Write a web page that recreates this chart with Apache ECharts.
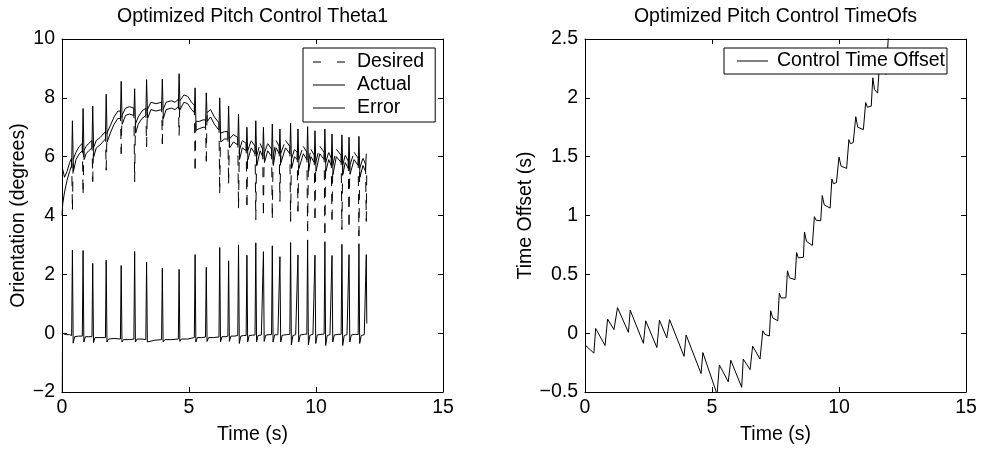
<!DOCTYPE html>
<html>
<head>
<meta charset="utf-8">
<script src="https://cdn.jsdelivr.net/npm/echarts@6/dist/echarts.min.js"></script>
<style>html,body{margin:0;padding:0;background:#fff}#c{width:984px;height:450px}</style>
</head>
<body>
<div id="c"></div>
<script>
// ---- Data (time in s) ----
const leftTitle = 'Optimized Pitch Control Theta1';
const rightTitle = 'Optimized Pitch Control TimeOfs';
const leftSeriesNames = ['Desired', 'Actual', 'Error'];
const rightSeriesName = 'Control Time Offset';
const xRange = [0, 15, 5];
const leftYRange = [-2, 10, 2];
const rightYRange = [-0.5, 2.5, 0.5];

const desired = [
[0,4.3],[0.02,5.6],[0.1,5.3],[0.2,5.5],[0.3,5.8],
[0.38,5.95],[0.41,4.2],[0.44,5.9],[0.55,6.15],[0.68,6.35],
[0.8,6.45],[0.83,4.76],[0.86,6.2],[0.95,6.35],[1.05,6.45],
[1.18,6.55],[1.21,5.15],[1.24,6.3],[1.35,6.55],[1.5,6.65],
[1.71,6.85],[1.74,5.54],[1.77,6.8],[1.9,7.05],[2.05,7.35],[2.2,7.55],
[2.3,7.55],[2.33,6.1],[2.36,7.4],[2.5,7.65],[2.65,7.7],
[2.83,7.65],[2.86,5.15],[2.89,7.1],[3.0,7.35],[3.15,7.55],
[3.3,7.65],[3.33,6.33],[3.36,7.6],[3.5,7.85],[3.7,7.8],
[3.92,7.85],[3.95,6.43],[3.98,7.6],[4.1,7.85],[4.3,7.9],[4.45,7.85],
[4.58,7.95],[4.61,6.72],[4.64,7.9],[4.8,8.1],[4.95,8.05],[5.1,7.85],
[5.21,7.75],[5.24,5.6],[5.27,7.2],[5.4,7.2],[5.55,7.25],
[5.65,7.25],[5.68,5.84],[5.71,7.5],[5.85,7.6],[6.0,7.35],
[6.18,7.15],[6.21,4.76],[6.24,6.8],[6.4,6.85],
[6.53,6.85],[6.56,5.09],[6.59,6.6],[6.75,6.75],
[6.92,6.65],[6.95,4.25],[6.98,6.2],[7.1,6.55],
[7.25,6.45],[7.28,4.36],[7.31,6.2],[7.45,6.55],
[7.6,6.35],[7.63,3.86],[7.66,6.0],[7.8,6.45],
[7.9,6.25],[7.93,4.08],[7.96,6.1],[8.1,6.45],
[8.25,6.25],[8.28,3.92],[8.31,6.0],[8.43,6.55],
[8.55,6.35],[8.58,4.48],[8.61,6.1],[8.8,6.55],
[8.97,6.35],[9.0,3.8],[9.03,5.9],[9.15,6.25],
[9.26,6.15],[9.29,4.14],[9.32,5.9],[9.5,6.35],
[9.64,6.15],[9.67,3.47],[9.7,5.8],[9.8,6.25],
[9.93,6.05],[9.96,3.92],[9.99,5.8],[10.15,6.35],
[10.32,6.15],[10.35,3.41],[10.38,5.8],[10.5,6.15],
[10.6,5.95],[10.63,3.86],[10.66,5.7],[10.8,6.25],
[10.99,6.05],[11.02,3.52],[11.05,5.7],[11.15,6.05],
[11.27,5.85],[11.3,3.69],[11.33,5.7],[11.5,6.15],
[11.66,5.95],[11.69,3.3],[11.72,5.6],[11.85,5.95],
[11.95,5.75],[11.98,3.8],[12.0,5.6]
];

const actual = [
[0,4.0],[0.03,4.4],[0.1,4.8],[0.2,5.2],[0.3,5.5],
[0.38,5.7],[0.41,7.22],[0.45,5.5],[0.55,5.9],[0.68,6.1],
[0.8,6.2],[0.83,7.64],[0.87,5.9],[0.95,6.1],[1.05,6.2],
[1.18,6.3],[1.21,7.72],[1.25,6.0],[1.35,6.3],[1.5,6.4],
[1.71,6.6],[1.74,8.12],[1.78,6.5],[1.9,6.8],[2.05,7.1],[2.2,7.3],
[2.3,7.3],[2.33,8.56],[2.37,7.1],[2.5,7.4],[2.65,7.45],
[2.83,7.4],[2.86,8.31],[2.9,6.8],[3.0,7.1],[3.15,7.3],
[3.3,7.4],[3.33,8.62],[3.37,7.3],[3.5,7.6],[3.7,7.55],
[3.92,7.6],[3.95,8.64],[3.99,7.3],[4.1,7.6],[4.3,7.65],[4.45,7.6],
[4.58,7.7],[4.61,8.82],[4.65,7.6],[4.8,7.85],[4.95,7.8],[5.1,7.6],
[5.21,7.5],[5.24,8.34],[5.28,6.9],[5.4,6.95],[5.55,7.0],
[5.65,7.0],[5.68,8.17],[5.72,7.2],[5.85,7.35],[6.0,7.1],
[6.18,6.9],[6.21,8.0],[6.25,6.5],[6.4,6.6],
[6.53,6.6],[6.56,7.72],[6.6,6.3],[6.75,6.5],
[6.92,6.4],[6.95,7.44],[6.99,5.9],[7.1,6.3],
[7.25,6.2],[7.28,7.0],[7.32,5.9],[7.45,6.3],
[7.6,6.1],[7.63,7.22],[7.67,5.7],[7.8,6.2],
[7.9,6.0],[7.93,7.0],[7.97,5.8],[8.1,6.2],
[8.25,6.0],[8.28,7.11],[8.32,5.7],[8.43,6.3],
[8.55,6.1],[8.58,6.94],[8.62,5.8],[8.8,6.3],
[8.97,6.1],[9.0,7.14],[9.04,5.6],[9.15,6.0],
[9.26,5.9],[9.29,6.94],[9.33,5.6],[9.5,6.1],
[9.64,5.9],[9.67,7.02],[9.71,5.5],[9.8,6.0],
[9.93,5.8],[9.96,6.88],[10.0,5.5],[10.15,6.1],
[10.32,5.9],[10.35,6.94],[10.39,5.5],[10.5,5.9],
[10.6,5.7],[10.63,6.77],[10.67,5.4],[10.8,6.0],
[10.99,5.8],[11.02,6.74],[11.06,5.4],[11.15,5.8],
[11.27,5.6],[11.3,6.66],[11.34,5.4],[11.5,5.9],
[11.66,5.7],[11.69,6.69],[11.73,5.3],[11.85,5.7],
[11.95,5.5],[11.98,6.1]
];

const error = [
[0,-4.5],[0.02,0.0],[0.15,-0.05],[0.3,-0.05],[0.38,-0.08],[0.41,2.82],[0.44,-0.34],[0.5,-0.12],[0.65,-0.1],
[0.8,-0.1],[0.83,2.81],[0.86,-0.3],[0.92,-0.12],[1.05,-0.12],
[1.18,-0.12],[1.21,2.37],[1.24,-0.32],[1.3,-0.15],[1.5,-0.15],
[1.71,-0.15],[1.74,2.48],[1.77,-0.3],[1.83,-0.2],[2.05,-0.18],
[2.3,-0.2],[2.33,2.3],[2.36,-0.3],[2.42,-0.22],[2.65,-0.22],
[2.83,-0.2],[2.86,2.78],[2.89,-0.3],[2.95,-0.2],[3.15,-0.2],
[3.3,-0.22],[3.33,2.41],[3.36,-0.3],[3.42,-0.24],[3.65,-0.24],
[3.92,-0.22],[3.95,2.21],[3.98,-0.3],[4.05,-0.22],[4.3,-0.22],
[4.58,-0.2],[4.61,2.17],[4.64,-0.28],[4.7,-0.2],[4.95,-0.2],
[5.21,-0.15],[5.24,2.67],[5.27,-0.3],[5.33,-0.15],[5.5,-0.15],
[5.65,-0.13],[5.68,2.24],[5.71,-0.28],[5.77,-0.15],[5.95,-0.15],
[6.18,-0.13],[6.21,2.91],[6.24,-0.3],[6.3,-0.12],[6.45,-0.12],
[6.53,-0.1],[6.56,2.46],[6.59,-0.28],[6.65,-0.1],[6.8,-0.1],
[6.92,-0.08],[6.95,3.0],[6.98,-0.35],[7.04,-0.1],[7.15,-0.08],
[7.25,-0.08],[7.28,2.65],[7.31,-0.3],[7.37,-0.08],[7.5,-0.07],
[7.6,-0.06],[7.63,3.07],[7.66,-0.3],[7.72,-0.08],[7.85,-0.06],
[7.9,-0.06],[7.93,2.77],[7.96,-0.28],[8.02,-0.07],[8.15,-0.05],
[8.25,-0.05],[8.28,2.97],[8.31,-0.3],[8.37,-0.06],[8.5,-0.05],
[8.55,-0.05],[8.58,2.6],[8.61,-0.3],[8.67,-0.07],[8.85,-0.05],
[8.97,-0.04],[9.0,3.08],[9.03,-0.4],[9.09,-0.08],[9.2,-0.05],
[9.26,-0.05],[9.29,2.66],[9.32,-0.3],[9.38,-0.06],[9.55,-0.04],
[9.64,-0.03],[9.67,3.17],[9.7,-0.4],[9.76,-0.07],[9.88,-0.04],
[9.93,-0.04],[9.96,2.65],[9.99,-0.35],[10.05,-0.06],[10.2,-0.04],
[10.32,-0.03],[10.35,3.11],[10.38,-0.42],[10.44,-0.08],[10.55,-0.05],
[10.6,-0.05],[10.63,2.64],[10.66,-0.3],[10.72,-0.06],[10.9,-0.04],
[10.99,-0.04],[11.02,3.02],[11.05,-0.42],[11.11,-0.08],[11.22,-0.05],
[11.27,-0.05],[11.3,2.67],[11.33,-0.3],[11.39,-0.06],[11.55,-0.04],
[11.66,-0.05],[11.69,3.04],[11.72,-0.35],[11.78,-0.08],[11.9,-0.05],
[11.95,-0.05],[11.98,2.67],[12.0,0.33]
];

const timeOffset = [
[0,-0.10],[0.35,-0.17],[0.42,0.04],[0.79,-0.105],[0.89,0.12],[1.14,0.03],
[1.28,0.217],[1.71,0.007],[1.78,0.195],[2.3,-0.086],[2.39,0.105],[2.83,-0.122],
[2.93,0.11],[3.22,-0.04],[3.33,0.115],[3.9,-0.197],[3.98,-0.015],[4.57,-0.343],
[4.64,-0.165],[5.2,-0.52],[5.29,-0.27],[5.64,-0.413],[5.74,-0.23],[6.17,-0.46],
[6.23,-0.22],[6.5,-0.31],[6.6,-0.11],[6.89,-0.22],[7.0,0.02],
[7.08,-0.01],[7.26,-0.024],
[7.31,0.19],[7.39,0.13],[7.59,0.105],
[7.65,0.34],[7.72,0.30],[7.91,0.30],
[7.97,0.53],[8.05,0.47],[8.27,0.455],
[8.33,0.685],[8.4,0.64],[8.6,0.645],
[8.64,0.86],[8.72,0.78],[8.95,0.746],
[9.03,0.99],[9.1,0.96],[9.28,0.955],
[9.34,1.17],[9.42,1.09],[9.65,1.063],
[9.72,1.31],[9.78,1.27],[9.9,1.28],
[10.0,1.497],[10.08,1.42],[10.3,1.40],
[10.39,1.645],[10.45,1.61],[10.56,1.62],
[10.66,1.84],[10.74,1.75],[10.96,1.73],
[11.05,1.96],[11.12,1.92],[11.27,1.93],
[11.33,2.17],[11.4,2.07],[11.52,2.04],
[11.6,2.3],[11.68,2.22],[11.86,2.2],
[11.95,2.55]
];

// ---- Chart ----
const FONT = '"Liberation Sans", Arial, Helvetica, sans-serif';
const FS = 19.5;
const minusFmt = v => String(v).replace('-', '\u2212');

function mkX(grid, pos, labels, name) {
  return {
    type: 'value', gridIndex: grid, position: pos,
    min: xRange[0], max: xRange[1], interval: xRange[2],
    axisLine: { show: true, onZero: false, lineStyle: { color: '#000', width: 1 } },
    axisTick: { show: true, inside: true, length: 5, lineStyle: { color: '#000' } },
    axisLabel: { show: labels, color: '#000', fontSize: FS, fontFamily: FONT, margin: 6, formatter: minusFmt },
    splitLine: { show: false },
    name: name || '', nameLocation: 'middle', nameGap: 33,
    nameTextStyle: { color: '#000', fontSize: FS, fontFamily: FONT }
  };
}
function mkY(grid, pos, range, labels, name, gap) {
  return {
    type: 'value', gridIndex: grid, position: pos,
    min: range[0], max: range[1], interval: range[2],
    axisLine: { show: true, onZero: false, lineStyle: { color: '#000', width: 1 } },
    axisTick: { show: true, inside: true, length: 5, lineStyle: { color: '#000' } },
    axisLabel: { show: labels, color: '#000', fontSize: FS, fontFamily: FONT, margin: 7, formatter: minusFmt },
    splitLine: { show: false },
    name: name || '', nameLocation: 'middle', nameGap: gap || 30, nameRotate: 90,
    nameTextStyle: { color: '#000', fontSize: FS, fontFamily: FONT }
  };
}

const chart = echarts.init(document.getElementById('c'), null, { renderer: 'canvas' });
chart.setOption({
  backgroundColor: '#fff',
  animation: false,
  title: [
    { text: leftTitle, left: 252.5, top: 7, textAlign: 'center', padding: 0,
      textStyle: { color: '#000', fontWeight: 'normal', fontSize: FS, fontFamily: FONT } },
    { text: rightTitle, left: 775.5, top: 7, textAlign: 'center', padding: 0,
      textStyle: { color: '#000', fontWeight: 'normal', fontSize: FS, fontFamily: FONT } }
  ],
  grid: [
    { left: 62, top: 39, width: 381, height: 357 },
    { left: 585, top: 39, width: 381, height: 357 }
  ],
  xAxis: [
    mkX(0, 'bottom', true, 'Time (s)'), mkX(0, 'top', false),
    mkX(1, 'bottom', true, 'Time (s)'), mkX(1, 'top', false)
  ],
  yAxis: [
    mkY(0, 'left', leftYRange, true, 'Orientation (degrees)', 32), mkY(0, 'right', leftYRange, false),
    mkY(1, 'left', rightYRange, true, 'Time Offset (s)', 45), mkY(1, 'right', rightYRange, false)
  ],
  legend: [
    { orient: 'vertical', left: 303, top: 48, selectedMode: false,
      data: [
        { name: leftSeriesNames[0], icon: 'path://M0,0h8v1h-8zM24,0h8v1h-8z' },
        { name: leftSeriesNames[1], icon: 'path://M0,0h32v1h-32z' },
        { name: leftSeriesNames[2], icon: 'path://M0,0h32v1h-32z' }
      ],
      itemWidth: 32, itemHeight: 1, itemGap: 3,
      backgroundColor: '#fff', borderColor: '#000', borderWidth: 1, borderRadius: 0,
      padding: [4, 11, 4, 10],
      textStyle: { color: '#000', fontSize: FS, fontFamily: FONT, lineHeight: 19, padding: [0, 0, 0, 7] }
    },
    { orient: 'vertical', left: 724, top: 48, selectedMode: false,
      data: [{ name: rightSeriesName, icon: 'path://M0,0h31v1h-31z' }],
      itemWidth: 31, itemHeight: 1, itemGap: 3,
      backgroundColor: '#fff', borderColor: '#000', borderWidth: 1, borderRadius: 0,
      padding: [3, 2, 3, 13],
      textStyle: { color: '#000', fontSize: FS, fontFamily: FONT, lineHeight: 19, padding: [0, 0, 0, 4] }
    }
  ],
  series: [
    {
      name: leftSeriesNames[0], type: 'custom', xAxisIndex: 0, yAxisIndex: 0,
      data: desired, encode: { x: 0, y: 1 }, clip: true, itemStyle: { color: '#000' },
      renderItem: function (params, api) {
        const i = params.dataIndex;
        if (i === 0) return null;
        const p0 = api.coord(desired[i - 1]);
        const p1 = api.coord([api.value(0), api.value(1)]);
        return { type: 'line', shape: { x1: p0[0], y1: p0[1], x2: p1[0], y2: p1[1] },
                 style: { stroke: '#000', lineWidth: 1, lineDash: [10, 8] } };
      }
    },
    {
      name: leftSeriesNames[1], type: 'line', xAxisIndex: 0, yAxisIndex: 0,
      data: actual, symbol: 'none', showSymbol: false, clip: true,
      itemStyle: { color: '#000' }, lineStyle: { color: '#000', width: 1 }
    },
    {
      name: leftSeriesNames[2], type: 'line', xAxisIndex: 0, yAxisIndex: 0,
      data: error, symbol: 'none', showSymbol: false, clip: true,
      itemStyle: { color: '#000' }, lineStyle: { color: '#000', width: 1 }
    },
    {
      name: rightSeriesName, type: 'line', xAxisIndex: 2, yAxisIndex: 2,
      data: timeOffset, symbol: 'none', showSymbol: false, clip: true,
      itemStyle: { color: '#000' }, lineStyle: { color: '#000', width: 1 }
    }
  ]
});
</script>
</body>
</html>
